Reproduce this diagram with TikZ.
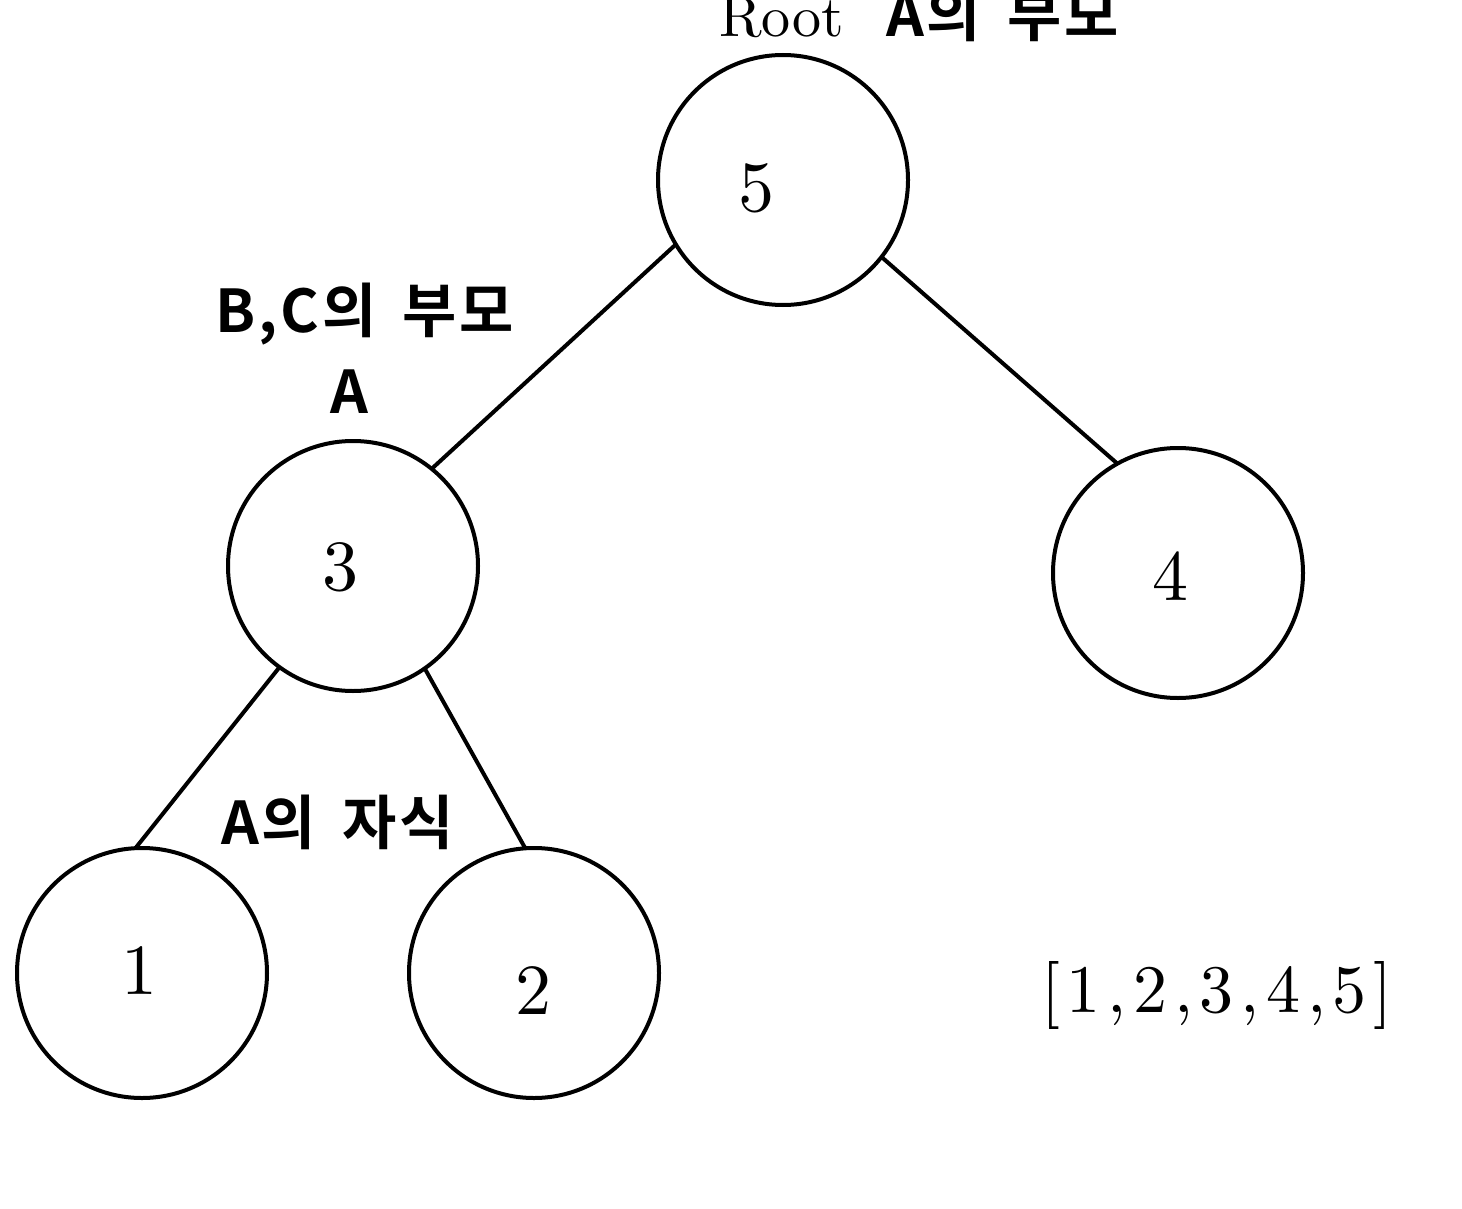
\documentclass[tikz,border=0pt]{standalone}
\usepackage{fontspec}
\setmainfont{lmroman10-regular}[Extension=.otf]
\newfontfamily\kr{Noto Sans CJK KR}[BoldFont={Noto Sans CJK KR Bold},LetterSpace=5,WordSpace=1.6]
\newfontfamily\spaced{lmroman10-regular}[Extension=.otf,LetterSpace=10]
\begin{document}
\begin{tikzpicture}[x=1pt,y=-1pt,
  vert/.style={circle,draw,line width=4pt,minimum size=250pt,inner sep=0pt,outer sep=0pt},
  edge/.style={line width=4pt},
  num/.style={anchor=base,inner sep=0pt,font=\fontsize{72}{86}\selectfont},
  krlab/.style={anchor=base west,inner sep=0pt,font=\kr\bfseries\fontsize{59}{70}\selectfont}]
\useasboundingbox (0,0) rectangle (1462,1209);
\node[vert] (n5) at (783,180) {};
\node[vert] (n3) at (353,566) {};
\node[vert] (n4) at (1178,573) {};
\node[vert] (n1) at (142,973) {};
\node[vert] (n2) at (534,973) {};
\draw[edge] (n5.211.6) -- (n3.51.3);
\draw[edge] (n5.-38) -- (n4.119);
\draw[edge] (n3.234.2) -- (n1.93.2);
\draw[edge] (n3.-55.6) -- (n2.94.5);
\node[num] (t5) at (756,212) {5};
\node[num] (t3) at (340,590) {3};
\node[num] (t4) at (1170,600) {4};
\node[num] (t1) at (139,994) {1};
\node[num] (t2) at (533,1014) {2};
\node[anchor=base west,inner sep=0pt,font=\fontsize{58}{70}\selectfont] (root) at (719,37) {Root};
\node[krlab] (ap) at (886,37) {A의 부모};
\node[krlab] (bc) at (215,332) {B,C의 부모};
\node[krlab,anchor=base] (a) at (349,413) {A};
\node[krlab] (ac) at (221,844) {A의 자식};
\node[anchor=base west,inner sep=0pt,font=\spaced\fontsize{68}{80}\selectfont] (arr) at (1041,1012) {[1,2,3,4,5]};
\end{tikzpicture}
\end{document}
